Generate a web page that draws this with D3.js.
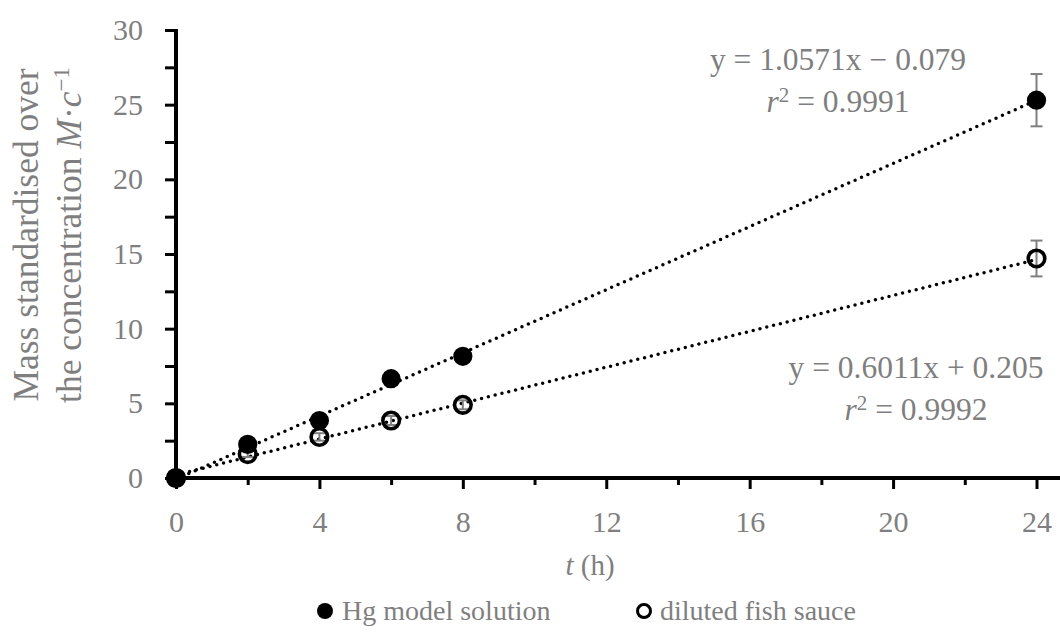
<!DOCTYPE html>
<html lang="en">
<head>
<meta charset="UTF-8"/>
<title>Mass over time</title>
<script src="https://d3js.org/d3.v7.min.js"></script>
<style>
	body { margin: 0; background: #fff; }
	text { font-family: "Liberation Serif", "DejaVu Serif", serif; fill: #7f7f7f; }
	.trend { fill: none; stroke: #000; stroke-width: 3.5; stroke-dasharray: 0 7; stroke-linecap: round; }
	.err { stroke: #7f7f7f; stroke-width: 2; }
</style>
</head>
<body>
<div id="chart"></div>
<script>
// sampling times (h)
var times = [0, 2, 4, 6, 8, 24];
// Hg model solution
var hgValues = [0, 2.25, 3.85, 6.65, 8.15, 25.3];
var hgErrors = [0, 0.25, 0.3, 0.35, 0.3, 1.75];
// diluted fish sauce
var fishValues = [0, 1.6, 2.75, 3.85, 4.9, 14.7];
var fishErrors = [0, 0.2, 0.25, 0.3, 0.3, 1.2];
// linear fits: slope, intercept
var hgFit = [1.0571, -0.079];
var fishFit = [0.6011, 0.205];

var xMajor = [0, 4, 8, 12, 16, 20, 24];
var xMinor = [2, 6, 10, 14, 18, 22];
var yTicks = [0, 2.5, 5, 7.5, 10, 12.5, 15, 17.5, 20, 22.5, 25, 27.5, 30];

var w = 1060, h = 640;
var svg = d3.select("#chart").append("svg")
	.attr("width", w)
	.attr("height", h);

var x = d3.scaleLinear().domain([0, 24]).range([176, 1036.5]);
var y = d3.scaleLinear().domain([0, 30]).range([478, 30]);

function series(vals, errs) {
	return times.map(function(t, i) { return {t: t, v: vals[i], e: errs[i]}; });
}
var hg = series(hgValues, hgErrors);
var fish = series(fishValues, fishErrors);

// axes
var yAxis = d3.axisLeft(y).tickValues(yTicks).tickSize(11).tickSizeOuter(0).tickPadding(22)
	.tickFormat(function(d) { return d % 5 === 0 ? d : ""; });
var gy = svg.append("g").attr("transform", "translate(" + x(0) + ",0)").call(yAxis);

var gxMinor = svg.append("g").attr("transform", "translate(0," + y(0) + ")")
	.call(d3.axisBottom(x).tickValues(xMinor).tickSize(7).tickFormat(""));
var gx = svg.append("g").attr("transform", "translate(0," + y(0) + ")")
	.call(d3.axisBottom(x).tickValues(xMajor).tickSize(11).tickPadding(22));

[gy, gx, gxMinor].forEach(function(g) {
	g.select(".domain").remove();
	g.selectAll(".tick line").attr("stroke", "#000").attr("stroke-width", 3);
	g.selectAll("text").attr("font-size", 30).attr("fill", "#7f7f7f")
		.attr("font-family", "Liberation Serif, serif");
});
svg.append("line")
	.attr("x1", x(0)).attr("x2", x(0))
	.attr("y1", y(30) - 1).attr("y2", y(0) + 2)
	.attr("stroke", "#000").attr("stroke-width", 4);
svg.append("line")
	.attr("x1", x(0) - 2).attr("x2", w)
	.attr("y1", y(0)).attr("y2", y(0))
	.attr("stroke", "#000").attr("stroke-width", 4);

// trend lines
function fitLine(fit) {
	return d3.line().x(function(d) { return x(d); }).y(function(d) { return y(fit[0] * d + fit[1]); });
}
svg.append("path").datum([0, 24]).attr("class", "trend").attr("d", fitLine(fishFit));
svg.append("path").datum([0, 24]).attr("class", "trend").attr("d", fitLine(hgFit));

// error bars
function errBars(data, cap) {
	var g = svg.append("g");
	data.forEach(function(d) {
		if (!d.e) return;
		g.append("line").attr("class", "err")
			.attr("x1", x(d.t)).attr("x2", x(d.t))
			.attr("y1", y(d.v - d.e)).attr("y2", y(d.v + d.e));
		[d.v - d.e, d.v + d.e].forEach(function(v) {
			g.append("line").attr("class", "err")
				.attr("x1", x(d.t) - cap).attr("x2", x(d.t) + cap)
				.attr("y1", y(v)).attr("y2", y(v));
		});
	});
}
errBars(fish, 6);
errBars(hg, 6);

// markers
svg.append("g").selectAll("circle").data(fish).join("circle")
	.attr("cx", function(d) { return x(d.t); })
	.attr("cy", function(d) { return y(d.v); })
	.attr("r", 8.3)
	.attr("fill", "none")
	.attr("stroke", "#000")
	.attr("stroke-width", 3.6);
svg.append("g").selectAll("circle").data(hg).join("circle")
	.attr("cx", function(d) { return x(d.t); })
	.attr("cy", function(d) { return y(d.v); })
	.attr("r", 9.6)
	.attr("fill", "#000");

// equations
function equation(cx, cy, gap, eq, r2) {
	var t = svg.append("text").attr("x", cx).attr("y", cy)
		.attr("text-anchor", "middle").attr("font-size", 31.5);
	t.text(eq);
	var t2 = svg.append("text").attr("x", cx).attr("y", cy + gap)
		.attr("text-anchor", "middle").attr("font-size", 31.5);
	t2.append("tspan").attr("font-style", "italic").text("r");
	t2.append("tspan").attr("font-size", 21).attr("dy", -10).text("2");
	t2.append("tspan").attr("dy", 10).text(" = " + r2);
}
equation(838, 70, 42, "y = " + hgFit[0] + "x \u2212 " + Math.abs(hgFit[1]).toFixed(3), "0.9991");
equation(916, 378, 42, "y = " + fishFit[0] + "x + " + fishFit[1].toFixed(3), "0.9992");

// axis titles
svg.append("text").attr("transform", "translate(38,235) rotate(-90)")
	.attr("text-anchor", "middle").attr("font-size", 35.5)
	.text("Mass standardised over");
var yt2 = svg.append("text").attr("transform", "translate(81,235) rotate(-90)")
	.attr("text-anchor", "middle").attr("font-size", 35.5);
yt2.append("tspan").text("the concentration ");
yt2.append("tspan").attr("font-style", "italic").text("M");
yt2.append("tspan").text("\u00b7");
yt2.append("tspan").attr("font-style", "italic").text("c");
yt2.append("tspan").attr("font-size", 23).attr("dy", -12).text("\u22121");

var xt = svg.append("text").attr("x", 590).attr("y", 575)
	.attr("text-anchor", "middle").attr("font-size", 29);
xt.append("tspan").attr("font-style", "italic").text("t");
xt.append("tspan").text(" (h)");

// legend
svg.append("circle").attr("cx", 325).attr("cy", 611).attr("r", 8).attr("fill", "#000");
svg.append("text").attr("x", 342).attr("y", 620).attr("font-size", 28).text("Hg model solution");
svg.append("circle").attr("cx", 644).attr("cy", 611).attr("r", 6.5)
	.attr("fill", "none").attr("stroke", "#000").attr("stroke-width", 3);
svg.append("text").attr("x", 660).attr("y", 620).attr("font-size", 28).text("diluted fish sauce");
</script>
</body>
</html>
